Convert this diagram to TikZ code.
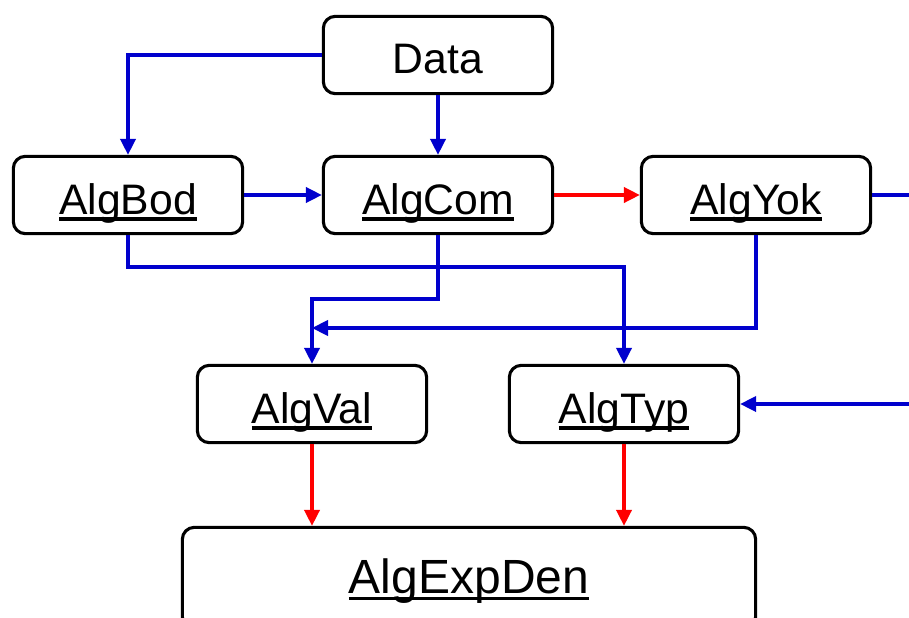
\documentclass[tikz,border=0pt]{standalone}
\usepackage{fontspec}
\setmainfont{Liberation Sans}
\usepackage{tikz}
\usetikzlibrary{arrows.meta}
\newcommand{\algul}[1]{\setbox0\hbox{#1}\rlap{\vrule height -2.6pt depth 5pt width \wd0}\box0}

\begin{document}
\begin{tikzpicture}[x=0.75pt, y=-0.75pt,
    algbox/.style={rectangle, rounded corners=9pt, draw, line width=2.3pt,
        minimum width=172pt, minimum height=58pt, inner sep=0pt,
        text height=28.5pt, text depth=0pt,
        font=\fontsize{32}{38}\selectfont},
    flow/.style={draw={rgb,255:red,0;green,0;blue,205}, line width=2.3pt,
        -{Triangle[length=12pt,width=11.5pt]}},
    prior/.style={draw=red, line width=2.3pt,
        -{Triangle[length=12pt,width=11.5pt]}}]
            \useasboundingbox (0,0) rectangle (909,617);
            \clip (0,0) rectangle (909,617);

            % Define boxes
            \node[algbox] (Data) at (438,55) {Data};
            \node[algbox] (AlgBod) at (128,195) {\algul{AlgBod}};
            \node[algbox] (AlgCom) at (438,195) {\algul{AlgCom}};
            \node[algbox] (AlgYok) at (756,195) {\algul{AlgYok}};
            \node[algbox] (AlgVal) at (312,404) {\algul{AlgVal}};
            \node[algbox] (AlgTyp) at (624,404) {\algul{AlgTyp}};
            \node[algbox, minimum width=430pt, minimum height=76pt, text height=23pt,
                font=\fontsize{36}{43}\selectfont] (AlgExpDen) at (469,578) {\algul{AlgExpDen}};

            % Loose ends at the right border
            \coordinate (outYok) at (915,195);
            \coordinate (inTyp) at (915,404);

            % Draw blue flows
            \draw[flow] (Data.west) -| (AlgBod.north);
            \draw[flow] (Data.south) -- (AlgCom.north);
            \draw[flow] (AlgBod.east) -- (AlgCom.west);
            \draw[flow, -] (AlgYok.east) -- (outYok);
            \draw[flow] (AlgBod.south) |- (624,267) -- (AlgTyp.north);
            \draw[flow] (AlgCom.south) |- (312,299) -- (AlgVal.north);
            \draw[flow] (AlgYok.south) |- (AlgVal.north |- 0,328);
            \draw[flow] (inTyp) -- (AlgTyp.east);

            % Draw red flows
            \draw[prior] (AlgCom.east) -- (AlgYok.west);
            \draw[prior] (AlgVal.south) -- (AlgVal.south |- AlgExpDen.north);
            \draw[prior] (AlgTyp.south) -- (AlgTyp.south |- AlgExpDen.north);
        \end{tikzpicture}
\end{document}
